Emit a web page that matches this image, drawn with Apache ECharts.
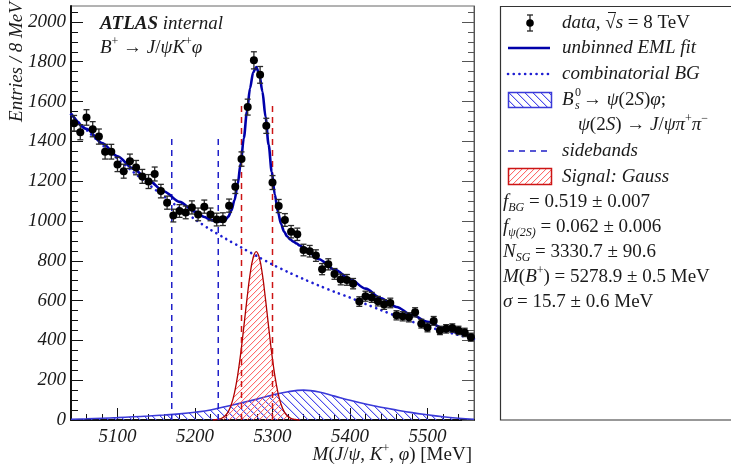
<!DOCTYPE html>
<html><head><meta charset="utf-8">
<script src="https://cdn.jsdelivr.net/npm/echarts@6/dist/echarts.min.js"></script>
<style>html,body{margin:0;padding:0;background:#fff}#c{width:731px;height:466px}</style>
</head><body><div id="c"></div>
<script>
// ---- data ----
const binCenters = [5044,5052,5060,5068,5076,5084,5092,5100,5108,5116,5124,5132,5140,5148,5156,5164,5172,5180,5188,5196,5204,5212,5220,5228,5236,5244,5252,5260,5268,5276,5284,5292,5300,5308,5316,5324,5332,5340,5348,5356,5364,5372,5380,5388,5396,5404,5412,5420,5428,5436,5444,5452,5460,5468,5476,5484,5492,5500,5508,5516,5524,5532,5540,5548,5556];
const dataCounts = [1491,1446,1520,1461,1424,1348,1348,1284,1250,1300,1268,1224,1198,1236,1150,1092,1027,1050,1043,1068,1033,1072,1033,1007,1009,1077,1172,1311,1572,1807,1734,1478,1193,1075,1005,946,933,854,848,826,758,782,734,706,704,685,595,622,616,597,580,588,526,521,516,541,484,465,498,450,458,462,450,440,416];
const dataErrors = [39,38,39,38,38,37,37,36,35,36,36,35,35,35,34,33,32,32,32,33,32,33,32,32,32,33,34,36,40,43,42,38,35,33,32,31,31,29,29,29,28,28,27,27,27,26,24,25,25,24,24,24,23,23,23,23,22,22,22,21,21,21,21,21,20];

const fitX = [5040,5060,5080,5100,5120,5140,5160,5180,5200,5212,5220,5223,5227,5231,5235,5239,5243,5247,5251,5255,5259,5263,5267,5271,5275,5279,5283,5287,5291,5295,5299,5303,5307,5311,5315,5319,5323,5327,5331,5335,5340,5360,5380,5400,5420,5440,5460,5480,5500,5520,5540,5560];
const fitY = [1540,1463,1392,1325,1263,1204,1148,1096,1047,1020,1007,1003,999,997,998,1005,1022,1053,1105,1184,1290,1417,1549,1666,1746,1773,1737,1650,1523,1383,1247,1133,1046,985,946,922,907,896,887,877,866,808,756,708,660,612,568,528,494,462,436,410];

const compX = [5040,5060,5080,5100,5120,5140,5160,5180,5200,5220,5240,5260,5280,5300,5320,5340,5360,5380,5400,5420,5440,5460,5480,5500,5520,5540,5560];
const bgY = [1535,1457,1383,1313,1247,1184,1123,1065,1008,956,910,866,823,781,743,708,675,644,615,583,552,522,494,470,447,427,407];
const bsY = [4,6,9,12,16,20,25,31,39,50,68,86,105,126,142,150,141,120,99,80,64,50,37,26,16,9,4];

const sigX = [5223,5227,5231,5235,5239,5243,5247,5251,5255,5259,5263,5267,5271,5275,5279,5283,5287,5291,5295,5299,5303,5307,5311,5315,5319,5323,5327,5331,5335];
const sigY = [0,2,4,10,21,42,79,138,223,335,468,606,730,815,846,815,730,606,468,335,223,138,79,42,21,10,4,2,0];

const sidebandX = [5170, 5230];
const sidebandTop = 1430;
const signalRegionX = [5260, 5300];
const signalRegionTop = 1595;

const xMajorTicks = [5100,5200,5300,5400,5500];
const xMinorTicks = [5060,5080,5120,5140,5160,5180,5220,5240,5260,5280,5320,5340,5360,5380,5420,5440,5460,5480,5520,5540];
const yMajorTicks = [0,200,400,600,800,1000,1200,1400,1600,1800,2000];
const yMinorTicks = [50,100,150,250,300,350,450,500,550,650,700,750,850,900,950,1050,1100,1150,1250,1300,1350,1450,1500,1550,1650,1700,1750,1850,1900,1950,2050];

// ---- styling ----
const F = 'Liberation Serif';
const TXT = '#1a1a1a';
// pixel-drawn hatch tiles: dir 'back' = "\", 'fwd' = "/"
function hatch(dir, p, rgb, a0, a1) {
  const S = p * 4;
  const c = document.createElement('canvas'); c.width = S; c.height = S;
  const g = c.getContext('2d');
  for (let y = 0; y < S; y++) {
    for (let x = 0; x < S; x++) {
      const m = dir === 'back' ? ((x - y) % p + p) % p : (x + y) % p;
      if (m === 0) { g.fillStyle = 'rgba(' + rgb + ',' + a0 + ')'; g.fillRect(x, y, 1, 1); }
      else if (m === 1 && a1 > 0) { g.fillStyle = 'rgba(' + rgb + ',' + a1 + ')'; g.fillRect(x, y, 1, 1); }
    }
  }
  return c;
}
const blueHatch = hatch('back', 8, '70,70,235', 0.95, 0.3);
const redHatch = hatch('fwd', 6, '255,70,70', 0.8, 0.12);

const rich = {
  i: {fontFamily:F, fontSize:19, fontStyle:'italic', lineHeight:24, color:TXT},
  n: {fontFamily:F, fontSize:19, fontStyle:'normal', lineHeight:24, color:TXT},
  b: {fontFamily:F, fontSize:19, fontStyle:'italic', fontWeight:'bold', lineHeight:24, color:TXT},
  sup: {fontFamily:F, fontSize:12, fontStyle:'normal', lineHeight:12, verticalAlign:'top', color:TXT},
  sub: {fontFamily:F, fontSize:12, fontStyle:'italic', lineHeight:12, verticalAlign:'bottom', color:TXT}
};
function T(x, y, text, align) {
  return {type:'text', x:x, y:y, z:50, style:{text:text, rich:rich, fontFamily:F, fontSize:19, fontStyle:'italic', fill:TXT, align:align||'left', verticalAlign:'middle'}};
}
function S(x, y, text, size, italic) {
  return {type:'text', x:x, y:y, z:50, style:{text:text, fontFamily:F, fontSize:size, fontStyle:italic?'italic':'normal', fill:TXT, align:'left', verticalAlign:'middle'}};
}
function L(x1,y1,x2,y2,style){ return {type:'line', z:50, shape:{x1:x1,y1:y1,x2:x2,y2:y2}, style:style}; }

const axisFont = {fontFamily:F, fontStyle:'italic', fontSize:19, color:TXT, formatter: v => String(v)};
function xAx(ticks, len, labels, line) {
  return {type:'value', min:5040, max:5560, position:'bottom', gridIndex:0,
    axisLine:{show:line, onZero:false, lineStyle:{color:'#111', width:2}},
    axisTick:{show:true, inside:true, length:len, customValues:ticks, lineStyle:{color:'#111', width:1}},
    axisLabel: labels ? Object.assign({customValues:ticks, margin:7}, axisFont) : {show:false},
    splitLine:{show:false}};
}
function yAx(ticks, len, labels, pos, line, col, lw) {
  return {type:'value', min:0, max:2080, position:pos, gridIndex:0,
    axisLine:{show:line, onZero:false, lineStyle:{color:col, width:lw}},
    axisTick:{show:true, inside:true, length:len, customValues:ticks, lineStyle:{color:col, width:1}},
    axisLabel: labels ? Object.assign({customValues:ticks, margin:5}, axisFont) : {show:false},
    splitLine:{show:false}};
}

const series = [];
series.push({type:'line', data: compX.map((x,i)=>[x,bsY[i]]), smooth:0.4, symbol:'none', z:2,
  lineStyle:{color:'#3a3ad8', width:1.6}, areaStyle:{color:{image:blueHatch, repeat:'repeat'}, opacity:1}});
series.push({type:'line', data: sigX.map((x,i)=>[x,sigY[i]]), smooth:0.4, symbol:'none', z:3,
  lineStyle:{color:'#b00000', width:1.3}, areaStyle:{color:{image:redHatch, repeat:'repeat'}, opacity:1}});
sidebandX.forEach(x => series.push({type:'line', data:[[x,0],[x,sidebandTop]], symbol:'none', z:4,
  lineStyle:{color:'#1f1fc8', width:1.5, type:[6,5]}}));
signalRegionX.forEach(x => series.push({type:'line', data:[[x,0],[x,signalRegionTop]], symbol:'none', z:4,
  lineStyle:{color:'#cc1515', width:1.5, type:[6,5]}}));
series.push({type:'line', data: compX.map((x,i)=>[x,bgY[i]]), smooth:0.3, symbol:'none', z:5,
  lineStyle:{color:'#1e1ed2', width:2.6, type:[0.1,5.6], cap:'round'}});
series.push({type:'line', data: fitX.map((x,i)=>[x,fitY[i]]), smooth:0.3, smoothMonotone:'x', symbol:'none', z:6,
  lineStyle:{color:'#0000aa', width:2.6}});
series.push({type:'custom', z:7, data: binCenters.map((x,i)=>[x,dataCounts[i],dataErrors[i]]), encode:{x:0,y:1},
  renderItem: function(params, api){
    const x = api.value(0), y = api.value(1), e = api.value(2);
    const t = api.coord([x, y+e]), b = api.coord([x, y-e]);
    const st = {stroke:'#2a2a2a', lineWidth:1.3, fill:null};
    return {type:'group', children:[
      {type:'line', shape:{x1:t[0],y1:t[1],x2:b[0],y2:b[1]}, style:st},
      {type:'line', shape:{x1:t[0]-3,y1:t[1],x2:t[0]+3,y2:t[1]}, style:st},
      {type:'line', shape:{x1:b[0]-3,y1:b[1],x2:b[0]+3,y2:b[1]}, style:st}
    ]};
  }});
series.push({type:'scatter', z:8, data: binCenters.map((x,i)=>[x,dataCounts[i]]), symbol:'circle', symbolSize:8,
  itemStyle:{color:'#000', opacity:1}});

const graphic = [
  {type:'rect', z:40, shape:{x:500.5, y:6.5, width:240, height:413.5}, style:{fill:null, stroke:'#333', lineWidth:1.2}},
  L(530,15,530,31,{stroke:'#222', lineWidth:1.3}),
  L(527,15,533,15,{stroke:'#222', lineWidth:1.3}),
  L(527,31,533,31,{stroke:'#222', lineWidth:1.3}),
  {type:'circle', z:50, shape:{cx:530, cy:23, r:3.8}, style:{fill:'#000'}},
  L(508,48,550,48,{stroke:'#0000aa', lineWidth:2.6}),
  L(508,74,552,74,{stroke:'#1e1ed2', lineWidth:2.6, lineDash:[0.1,5.6], lineCap:'round'}),
  {type:'rect', z:50, shape:{x:508.5, y:92.5, width:43, height:15}, style:{fill:{image:blueHatch, repeat:'repeat'}, stroke:'#3a3ad8', lineWidth:1.5}},
  L(508,151,552,151,{stroke:'#1f1fc8', lineWidth:1.5, lineDash:[6,5]}),
  {type:'rect', z:50, shape:{x:508.5, y:168.5, width:43, height:16}, style:{fill:{image:redHatch, repeat:'repeat'}, stroke:'#cc1515', lineWidth:1.5}},
  T(562, 23, '{i|data, }{n|√}{i|s}{n| = 8 TeV}'),
  L(608,12.5,616,12.5,{stroke:TXT, lineWidth:1}),
  T(562, 48, '{i|unbinned EML fit}'),
  T(562, 74, '{i|combinatorial BG}'),
  T(562, 100, '{i|B}'),
  S(575, 93, '0', 12, false),
  S(575, 106, 's', 12, true),
  T(583, 100, '{n|→ }{i|ψ}{n|(2}{i|S}{n|)}{i|φ}{n|;}'),
  T(578, 125, '{i|ψ}{n|(2}{i|S}{n|) → }{i|J}{n|/}{i|ψπ}{sup|+}{i|π}{sup|−}'),
  T(562, 151, '{i|sidebands}'),
  T(562, 177, '{i|Signal: Gauss}'),
  T(503, 202, '{i|f}{sub|BG}{n| = 0.519 ± 0.007}'),
  T(503, 227, '{i|f}{sub|ψ(2S)}{n| = 0.062 ± 0.006}'),
  T(503, 252, '{i|N}{sub|SG}{n| = 3330.7 ± 90.6}'),
  T(503, 277, '{i|M}{n|(}{i|B}{sup|+}{n|) = 5278.9 ± 0.5 MeV}'),
  T(503, 302, '{i|σ}{n| = 15.7 ± 0.6 MeV}'),
  T(100, 24, '{b|ATLAS}{i| internal}'),
  T(100, 48, '{i|B}{sup|+}{n| → }{i|J}{n|/}{i|ψK}{sup|+}{i|φ}'),
  T(472, 455, '{i|M}{n|(}{i|J}{n|/}{i|ψ}{n|, }{i|K}{sup|+}{n|, }{i|φ}{n|) [MeV]}', 'right'),
  {type:'text', z:50, x:17, y:62, rotation:Math.PI/2, style:{text:'Entries / 8 MeV', fontFamily:F, fontSize:19, fontStyle:'italic', fill:TXT, align:'center', verticalAlign:'middle'}}
];

const chart = echarts.init(document.getElementById('c'), null, {renderer:'canvas'});
chart.setOption({
  animation:false,
  backgroundColor:'#fff',
  grid:{left:71, top:6, right:257, bottom:46, show:true, borderColor:'#666', borderWidth:1, backgroundColor:'transparent'},
  xAxis:[xAx(xMajorTicks,12,true,true), xAx(xMinorTicks,6,false,false)],
  yAxis:[yAx(yMajorTicks,12,true,'left',true,'#111',2), yAx(yMinorTicks,7,false,'left',false,'#111',1),
         yAx(yMajorTicks,12,false,'right',true,'#555',1), yAx(yMinorTicks,6,false,'right',false,'#555',1)],
  series: series,
  graphic: graphic
});
</script></body></html>
